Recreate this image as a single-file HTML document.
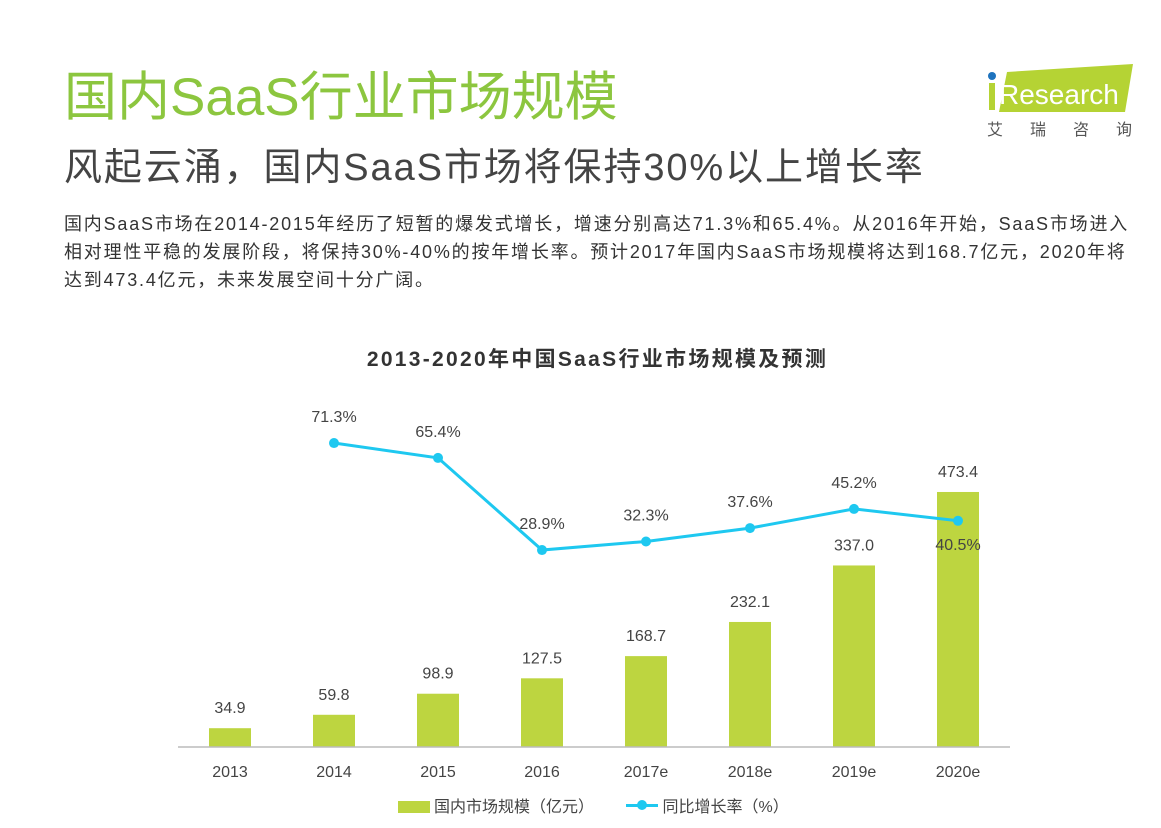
<!DOCTYPE html>
<html><head><meta charset="utf-8"><style>
body{margin:0;width:1161px;height:828px;background:#fff;overflow:hidden;font-family:"Liberation Sans","Noto Sans CJK SC",sans-serif;position:relative}
.a{position:absolute;white-space:nowrap}
</style></head><body>
<div class="a" style="left:64px;top:66px;font-size:53px;color:#8cc63f;line-height:64px">国内SaaS行业市场规模</div>
<div class="a" style="left:64px;top:144px;font-size:38px;color:#444;line-height:48px;letter-spacing:1.9px">风起云涌，国内SaaS市场将保持30%以上增长率</div>
<div class="a" style="left:64px;top:210px;font-size:18px;color:#333;line-height:28px;letter-spacing:1.8px">国内SaaS市场在2014-2015年经历了短暂的爆发式增长，增速分别高达71.3%和65.4%。从2016年开始，SaaS市场进入<br>相对理性平稳的发展阶段，将保持30%-40%的按年增长率。预计2017年国内SaaS市场规模将达到168.7亿元，2020年将<br>达到473.4亿元，未来发展空间十分广阔。</div>
<svg class="a" style="left:975px;top:60px" width="170" height="85">
<polygon points="32,12 158,4 150,52 24,52" fill="#b5d334"/>
<circle cx="17" cy="16" r="4" fill="#1e73be"/>
<rect x="14" y="23" width="6" height="27" fill="#b5d334"/>
<text x="24" y="44" font-size="28" fill="#fff" font-family="Liberation Sans">Research</text>
<text x="12" y="75" font-size="16" fill="#555" letter-spacing="27" font-family="Noto Sans CJK SC">艾瑞咨询</text>
</svg>
<div class="a" style="left:0;width:1195px;text-align:center;top:343px;font-size:21px;font-weight:bold;color:#333;letter-spacing:2.3px">2013-2020年中国SaaS行业市场规模及预测</div>
<svg id="c" class="a" style="left:0;top:0" width="1161" height="828"></svg>
<script>
const categories=["2013","2014","2015","2016","2017e","2018e","2019e","2020e"];
const marketSize=[34.9,59.8,98.9,127.5,168.7,232.1,337.0,473.4];
const growthCats=["2014","2015","2016","2017e","2018e","2019e","2020e"];
const growthRate=[71.3,65.4,28.9,32.3,37.6,45.2,40.5];
const svg=document.getElementById('c');const NS='http://www.w3.org/2000/svg';
const xPos=i=>230+i*104;
const yBar=v=>747-v*0.5387;
const yLine=v=>623-v*2.524;
function mk(t,a,txt){const e=document.createElementNS(NS,t);for(const k in a)e.setAttribute(k,a[k]);if(txt!==undefined)e.textContent=txt;svg.appendChild(e);return e;}
categories.forEach((c,i)=>{
 const x=xPos(i),y=yBar(marketSize[i]);
 const r=mk('rect',{x:x-21,y:y,width:42,height:747-y,fill:'#bdd540'});
 
 
 const t=mk('text',{x:x,y:y-15,'text-anchor':'middle','font-size':16,fill:'#444'},marketSize[i].toFixed(1));
 
 
 const l=mk('text',{x:x,y:777,'text-anchor':'middle','font-size':16,fill:'#444'},c);
 
 
});
const ax=mk('line',{x1:178,y1:747,x2:1010,y2:747,stroke:'#bbb','stroke-width':1.5});


const pts=growthCats.map((c,i)=>[xPos(categories.indexOf(c)),yLine(growthRate[i])]);
const pl=mk('polyline',{points:pts.map(p=>p.join(',')).join(' '),fill:'none',stroke:'#1ec8f0','stroke-width':3});


pts.forEach((p,i)=>{
 const d=mk('circle',{cx:p[0],cy:p[1],r:5,fill:'#1ec8f0'});
 
 
 const below=i===pts.length-1;
 const t=mk('text',{x:p[0],y:below?p[1]+29:p[1]-21,'text-anchor':'middle','font-size':16,fill:'#444'},growthRate[i].toFixed(1)+'%');
 
 
});
</script>
<div class="a" style="left:398px;top:797px;font-size:16px;color:#444;line-height:22px">
<span><span style="display:inline-block;width:32px;height:12px;background:#bdd540;vertical-align:-1px;margin-right:4px"></span>国内市场规模（亿元）</span>
<span style="margin-left:28px"><span style="display:inline-block;width:32px;height:3px;background:#1ec8f0;vertical-align:5px;position:relative;margin-right:4px"><span style="position:absolute;left:11px;top:-4px;width:10px;height:10px;border-radius:50%;background:#1ec8f0"></span></span>同比增长率（%）</span>
</div>
</body></html>
